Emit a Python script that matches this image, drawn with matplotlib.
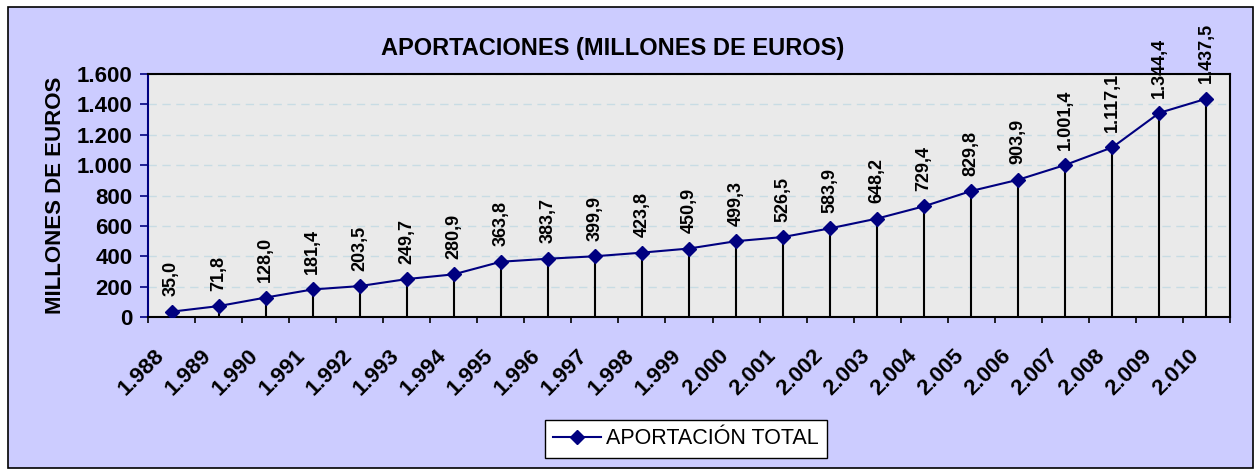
import numpy as np
import matplotlib.pyplot as plt
from matplotlib.patches import Rectangle
from matplotlib.transforms import ScaledTranslation

years = ['1.988', '1.989', '1.990', '1.991', '1.992', '1.993', '1.994', '1.995',
         '1.996', '1.997', '1.998', '1.999', '2.000', '2.001', '2.002', '2.003',
         '2.004', '2.005', '2.006', '2.007', '2.008', '2.009', '2.010']
aportacion = [35.0, 71.8, 128.0, 181.4, 203.5, 249.7, 280.9, 363.8, 383.7, 399.9,
              423.8, 450.9, 499.3, 526.5, 583.9, 648.2, 729.4, 829.8, 903.9, 1001.4,
              1117.1, 1344.4, 1437.5]
yticks = [0, 200, 400, 600, 800, 1000, 1200, 1400, 1600]


def es_fmt(v, dec=1):
    s = f"{v:,.{dec}f}"
    return s.replace(",", "X").replace(".", ",").replace("X", ".")


plt.rcParams['font.family'] = ['Liberation Sans', 'DejaVu Sans']

fig = plt.figure(figsize=(12.55, 4.70), dpi=100)
fig.patch.set_facecolor('white')
fig.patches.append(Rectangle((8 / 1255, 2 / 470), 1245 / 1255, 461 / 470,
                             transform=fig.transFigure, facecolor='#CCCCFF',
                             edgecolor='black', lw=1.2, zorder=-10))

ax = fig.add_axes([148 / 1255, 1 - 317 / 470, 1082 / 1255, 243 / 470])
ax.set_facecolor('#EAEAEA')

x = np.arange(len(years)) + 0.5
ax.vlines(x, 0, aportacion, colors='black', lw=1.5, zorder=2)
ax.plot(x, aportacion, color='#000080', lw=1.5, marker='D', markersize=7,
        label='APORTACIÓN TOTAL', zorder=3)

for xi, v in zip(x, aportacion):
    ax.annotate(es_fmt(v), (xi, v), xytext=(0, 11), textcoords='offset points',
                rotation=90, ha='center', va='bottom', fontsize=13,
                fontweight='bold', annotation_clip=False, zorder=5)

ax.set_xlim(0, len(years))
ax.set_ylim(0, 1600)
ax.set_yticks(yticks)
ax.set_yticklabels([es_fmt(t, 0) for t in yticks], fontsize=16, fontweight='bold')
ax.set_xticks(np.arange(len(years) + 1))
ax.set_xticklabels([])
ax.set_xticks(x, minor=True)
ax.set_xticklabels(years, minor=True, rotation=45, ha='right', va='top',
                   rotation_mode='anchor', fontsize=16, fontweight='bold')
ax.tick_params(axis='x', which='minor', length=0, pad=20)
ax.tick_params(axis='x', which='major', length=4.5, width=1.2, direction='out')
ax.tick_params(axis='y', length=6, width=1.2, color='#000080', pad=5)
# nudge the slanted year labels left, like the original
shift = ScaledTranslation(-18 / 100, 0, fig.dpi_scale_trans)
for lab in ax.get_xticklabels(minor=True):
    lab.set_transform(lab.get_transform() + shift)

ax.grid(axis='y', color='#C8DCE4', ls=(0, (6, 4)), lw=1)
ax.set_axisbelow(True)
for s in ['top', 'right', 'bottom']:
    ax.spines[s].set_color('black')
    ax.spines[s].set_linewidth(1.5)
ax.spines['left'].set_color('#000080')
ax.spines['left'].set_linewidth(1.5)

ax.set_ylabel('MILLONES DE EUROS', fontsize=16, fontweight='bold', labelpad=8)
fig.text(613 / 1255, 1 - 48 / 470, 'APORTACIONES (MILLONES DE EUROS)',
         ha='center', va='center', fontsize=17, fontweight='bold')

leg = fig.legend(loc='center', bbox_to_anchor=(686 / 1255, 1 - 439 / 470),
                 fontsize=15.5, fancybox=False, framealpha=1, edgecolor='black',
                 handlelength=2.2, borderpad=0.4, handletextpad=0.25)
leg.get_frame().set_linewidth(1)

fig.savefig('out.png', dpi=100)
